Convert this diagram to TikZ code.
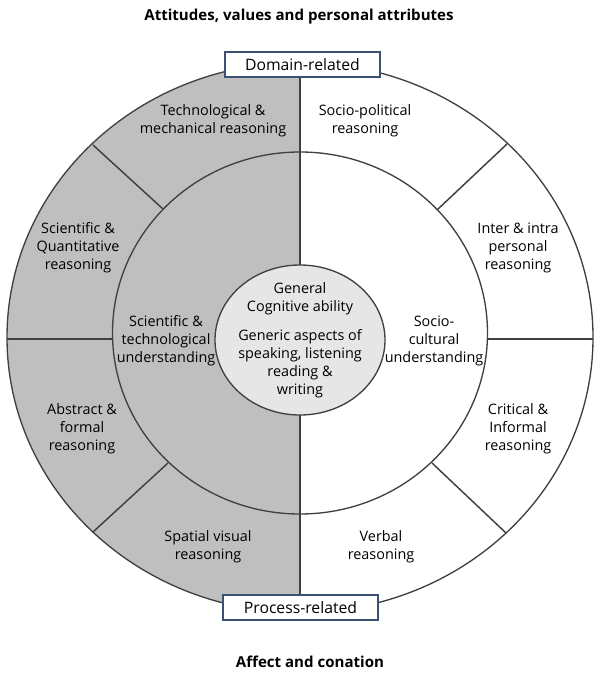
\documentclass[tikz,border=0pt]{standalone}
\usepackage{fontspec}
\setmainfont{Open Sans}

\definecolor{halfgray}{RGB}{191,191,191}
\definecolor{coregray}{RGB}{230,230,230}
\definecolor{rimline}{RGB}{64,64,64}
\definecolor{boxline}{RGB}{60,80,115}

\tikzset{every picture/.style={line width=0.75pt}}
\tikzset{
  ring/.style={draw=rimline, line width=1pt},
  divider/.style={draw=rimline, line width=1.1pt},
  lbl/.style={font=\fontsize{10.8}{13.5}\selectfont, align=center, inner sep=0pt},
  tag/.style={draw=boxline, fill=white, line width=0.8pt, font=\fontsize{11.8}{13}\selectfont},
  heading/.style={font=\bfseries\fontsize{11.3}{13}\selectfont}
}

\begin{document}
\begin{tikzpicture}[x=0.75pt,y=0.75pt,yscale=-1,xscale=1]
\useasboundingbox (0,0) rectangle (600,677);

%Shape: Half Ellipse (grey side)
\begin{scope}
\clip (0,0) rectangle (300,677);
\fill [halfgray] (300,337.5) ellipse (293 and 275);
\end{scope}

%Straight Lines: vertical split
\draw [divider] (300,62) -- (300,613) ;
%Straight Lines: horizontal splits
\draw [divider] (7,339) -- (112.5,339) ;
\draw [divider] (487.5,339) -- (593,339) ;
%Straight Lines: diagonal splits
\draw [divider] (93,145) -- (163,209) ;
\draw [divider] (507,144) -- (437,210) ;
\draw [divider] (93,532) -- (168,463) ;
\draw [divider] (506,533) -- (432,463) ;

%Shape: Ellipse (outer ring)
\draw [ring] (300,337.5) ellipse (293 and 275) ;
%Shape: Ellipse (inner ring)
\draw [ring] (300,333) ellipse (187.5 and 181) ;
%Shape: Ellipse (core)
\draw [ring, fill=coregray] (300,340) ellipse (85 and 75) ;

%Shape: Rectangle (labels on the rim)
\draw (302.5,64.5) node (domain) [tag, minimum width=155*0.75pt, minimum height=25*0.75pt] {Domain-related};
\draw (300.5,607.5) node (process) [tag, minimum width=155*0.75pt, minimum height=25*0.75pt] {Process-related};

% Text Node
\draw (299,17) node (attitudes) [heading] {Attitudes, values and personal attributes};
% Text Node
\draw (310,662) node (affect) [heading] {Affect and conation};

% Text Node
\draw (213,121) node (techmech) [lbl] {Technological \&\\mechanical reasoning};
% Text Node
\draw (365,121) node (sociopol) [lbl] {Socio-political\\reasoning};
% Text Node
\draw (78,248) node (sciquant) [lbl] {Scientific \&\\Quantitative\\reasoning};
% Text Node
\draw (518,248) node (interintra) [lbl] {Inter \& intra\\personal\\reasoning};
% Text Node
\draw (166,341) node (scitech) [lbl] {Scientific \&\\technological\\understanding};
% Text Node
\draw (434,341) node (sociocult) [lbl] {Socio-\\cultural\\understanding};
% Text Node
\draw (82,429) node (abstract) [lbl] {Abstract \&\\formal\\reasoning};
% Text Node
\draw (518,429) node (critical) [lbl] {Critical \&\\Informal\\reasoning};
% Text Node
\draw (208,547) node (spatial) [lbl] {Spatial visual\\reasoning};
% Text Node
\draw (381,547) node (verbal) [lbl] {Verbal\\reasoning};
% Text Node
\draw (300,299) node (general) [lbl] {General\\Cognitive ability};
% Text Node
\draw (300,364) node (generic) [lbl] {Generic aspects of\\speaking, listening\\reading \&\\writing};

\end{tikzpicture}
\end{document}
